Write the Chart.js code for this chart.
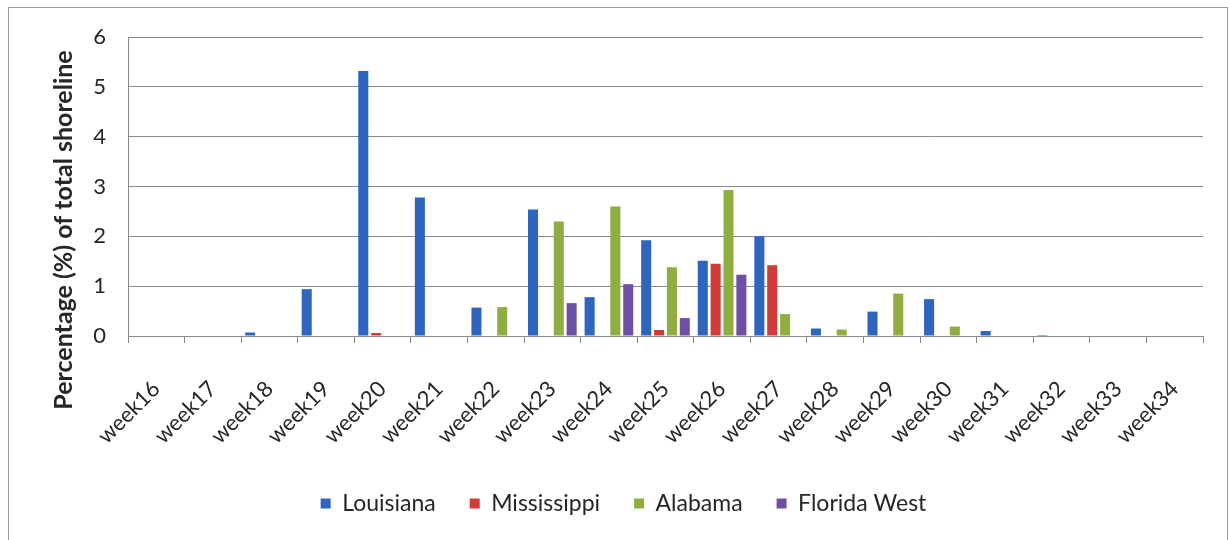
<!DOCTYPE html>
<html>
<head>
<meta charset="utf-8">
<title>Shoreline oiling by week</title>
<script src="https://cdn.jsdelivr.net/npm/chart.js@4/dist/chart.umd.min.js"></script>
<style>
  html, body { margin: 0; padding: 0; background: #fff; }
  #frame { position: absolute; left: 8px; top: 7px; width: 1220px; height: 540px; border: 1px solid #9a9a9a; box-sizing: border-box; }
  #wrap { position: absolute; left: 0; top: 0; width: 1230px; height: 540px; }
</style>
</head>
<body>
<div id="frame"></div>
<div id="wrap"><canvas id="bar-chart" width="1230" height="540"></canvas></div>
<script>
const weeks = ['week16', 'week17', 'week18', 'week19', 'week20', 'week21', 'week22',
    'week23', 'week24', 'week25', 'week26', 'week27', 'week28', 'week29', 'week30',
    'week31', 'week32', 'week33', 'week34'];

const louisiana = [0, 0, 0.07, 0.94, 5.32, 2.78, 0.57, 2.54, 0.78, 1.92, 1.51, 2.0, 0.15, 0.49, 0.74, 0.1, 0.02, 0, 0];
const mississippi = [0, 0, 0, 0, 0.06, 0, 0, 0, 0, 0.12, 1.45, 1.42, 0, 0, 0, 0, 0, 0, 0];
const alabama = [0, 0, 0, 0, 0, 0, 0.58, 2.3, 2.6, 1.38, 2.93, 0.44, 0.13, 0.85, 0.19, 0, 0, 0, 0];
const floridaWest = [0, 0, 0, 0, 0, 0, 0, 0.66, 1.04, 0.36, 1.23, 0, 0, 0, 0, 0, 0, 0, 0];

const yTicks = [0, 1, 2, 3, 4, 5, 6];
const yTitle = 'Percentage (%) of total shoreline';

const gridColor = '#8a8a8a';
const textColor = '#262626';

// rotated axis title, centred lower than the plot area like the original layout
const sideTitle = {
    id: 'sideTitle',
    afterDraw(chart) {
        const ctx = chart.ctx;
        ctx.save();
        ctx.translate(64, 230);
        ctx.rotate(-Math.PI / 2);
        ctx.font = 'bold 25px Lato';
        ctx.fillStyle = textColor;
        ctx.textAlign = 'center';
        ctx.textBaseline = 'middle';
        ctx.fillText(yTitle, 0, 0);
        ctx.restore();
    }
};

new Chart(document.getElementById('bar-chart'), {
    type: 'bar',
    data: {
        labels: weeks,
        datasets: [{
            label: 'Louisiana',
            data: louisiana,
            backgroundColor: '#2e65bf'
        }, {
            label: 'Mississippi',
            data: mississippi,
            backgroundColor: '#cf3c3a'
        }, {
            label: 'Alabama',
            data: alabama,
            backgroundColor: '#8fae3f'
        }, {
            label: 'Florida West',
            data: floridaWest,
            backgroundColor: '#6f4fa3'
        }]
    },
    options: {
        responsive: false,
        animation: false,
        categoryPercentage: 0.91,
        barPercentage: 0.78,
        layout: {
            // left padding pushes the legend's centre right; y axis width makes up the rest
            padding: { left: 44, right: 27, top: 37, bottom: 15 }
        },
        plugins: {
            legend: {
                position: 'bottom',
                labels: {
                    boxWidth: 10,
                    boxHeight: 10,
                    padding: 34,
                    color: textColor,
                    font: { family: 'Lato', size: 23 }
                }
            },
            tooltip: { enabled: false }
        },
        scales: {
            x: {
                grid: {
                    offset: true,
                    drawOnChartArea: false,
                    drawTicks: true,
                    tickLength: 7,
                    color: gridColor
                },
                border: { color: gridColor },
                ticks: {
                    minRotation: 45,
                    maxRotation: 45,
                    padding: 33,
                    color: textColor,
                    font: { family: 'Lato', size: 22 }
                },
                afterFit(scale) { scale.height = 122; }
            },
            y: {
                min: 0,
                max: 6,
                afterBuildTicks(scale) { scale.ticks = yTicks.map(v => ({ value: v })); },
                grid: { color: gridColor, drawTicks: false },
                border: { color: gridColor },
                ticks: {
                    padding: 22,
                    color: textColor,
                    font: { family: 'Lato', size: 22 }
                },
                afterFit(scale) { scale.width = 84; }
            }
        }
    },
    plugins: [sideTitle]
});
</script>
</body>
</html>
